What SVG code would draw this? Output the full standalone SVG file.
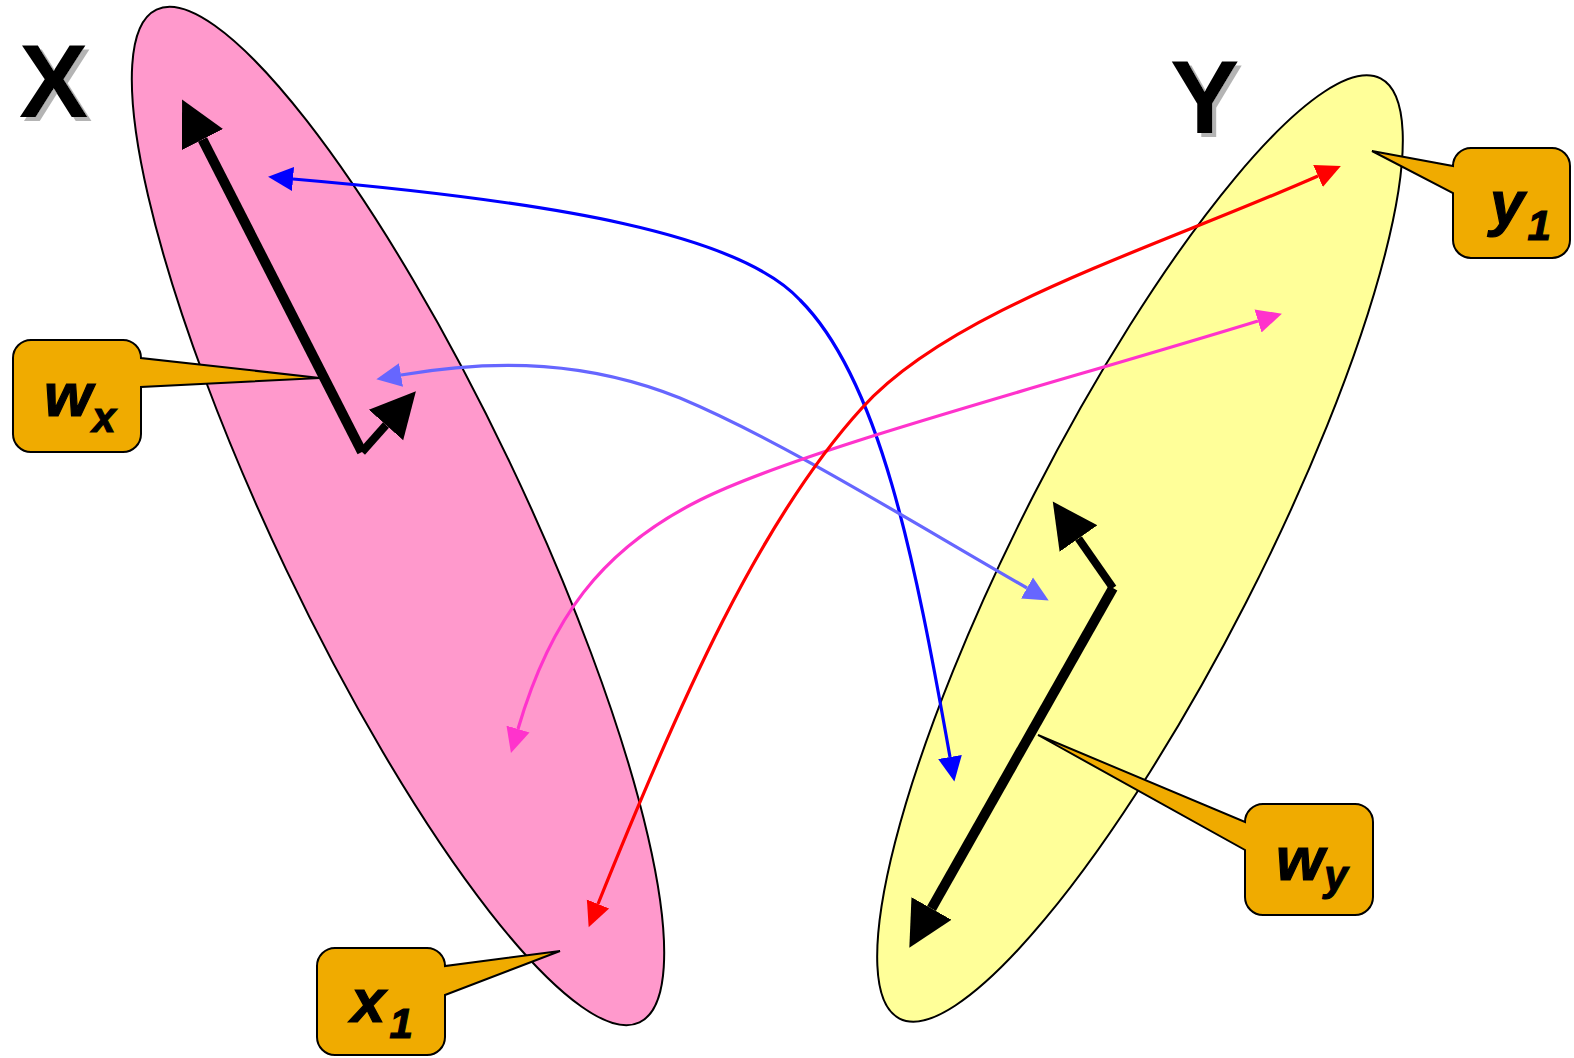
<svg xmlns="http://www.w3.org/2000/svg" width="1574" height="1058" viewBox="0 0 1574 1058">
<defs>
<style>
.ell{stroke:#000;stroke-width:2}
.call{fill:#F0AB00;stroke:#000;stroke-width:2;stroke-linejoin:miter}
.big{font-family:"Liberation Sans",Arial,sans-serif;font-weight:bold;font-size:104px;fill:#000}
.lab{font-family:"Liberation Sans",Arial,sans-serif;font-weight:bold;font-style:italic;font-size:62px;fill:#000;stroke:#000;stroke-width:1.2}
.sub{font-size:42px}
.thick{fill:none;stroke:#000}
.cv{fill:none;stroke-width:3.2}
</style>
<filter id="shadow" x="-20%" y="-20%" width="140%" height="140%">
<feOffset in="SourceAlpha" dx="4" dy="4" result="off"/>
<feFlood flood-color="#B4B4B4"/>
<feComposite in2="off" operator="in" result="sh"/>
<feMerge><feMergeNode in="sh"/><feMergeNode in="SourceGraphic"/></feMerge>
</filter>
<marker id="ahK" markerUnits="userSpaceOnUse" markerWidth="50" markerHeight="50" viewBox="0 -25 50 50" refX="0" refY="0" orient="auto"><path d="M0,-23 L45,0 L0,23 z" fill="#000"/></marker>
<marker id="ahB" markerUnits="userSpaceOnUse" markerWidth="30" markerHeight="30" viewBox="0 -15 30 30" refX="0" refY="0" orient="auto-start-reverse"><path d="M0,-12 L25,0 L0,12 z" fill="#0000FF"/></marker>
<marker id="ahL" markerUnits="userSpaceOnUse" markerWidth="30" markerHeight="30" viewBox="0 -15 30 30" refX="0" refY="0" orient="auto-start-reverse"><path d="M0,-12 L25,0 L0,12 z" fill="#6666FF"/></marker>
<marker id="ahM" markerUnits="userSpaceOnUse" markerWidth="30" markerHeight="30" viewBox="0 -15 30 30" refX="0" refY="0" orient="auto-start-reverse"><path d="M0,-12 L25,0 L0,12 z" fill="#FF33CC"/></marker>
<marker id="ahR" markerUnits="userSpaceOnUse" markerWidth="30" markerHeight="30" viewBox="0 -15 30 30" refX="0" refY="0" orient="auto-start-reverse"><path d="M0,-12 L25,0 L0,12 z" fill="#FF0000"/></marker>
</defs>
<rect width="1574" height="1058" fill="#fff"/>

<g id="setX">
<ellipse class="ell" cx="398" cy="516" rx="561" ry="124" fill="#FF99CC" transform="rotate(64.5 398 516)"/>
</g>
<g id="setY">
<ellipse class="ell" cx="1140" cy="548.5" rx="528" ry="119" fill="#FFFF99" transform="rotate(-62.9 1140 548.5)"/>
</g>

<g id="labelX">
<text class="big" x="19" y="117" filter="url(#shadow)">X</text>
</g>
<g id="labelY">
<text class="big" x="1170" y="133" filter="url(#shadow)">Y</text>
</g>

<g id="connectors">
<path class="cv" stroke="#0000FF" d="M293,179 C560,202 740,235 800,300 C880,380 915,560 950,757" marker-start="url(#ahB)" marker-end="url(#ahB)"/>
<path class="cv" stroke="#6666FF" d="M401,375 C500,358 590,362 680,398 C780,440 900,515 1027,588" marker-start="url(#ahL)" marker-end="url(#ahL)"/>
<path class="cv" stroke="#FF33CC" d="M1258,321 C1050,385 800,450 700,500 C600,550 550,620 518,729" marker-start="url(#ahM)" marker-end="url(#ahM)"/>
<path class="cv" stroke="#FF0000" d="M1318,176 C1150,250 950,310 862,408 C760,520 680,700 598,904" marker-start="url(#ahR)" marker-end="url(#ahR)"/>
<path class="thick" stroke-width="10" d="M362,452 L202.5,139.5" marker-end="url(#ahK)"/>
<path class="thick" stroke-width="8" d="M362,452 L386,425" marker-end="url(#ahK)"/>
<path class="thick" stroke-width="10" d="M1113,588 L931.5,908.5" marker-end="url(#ahK)"/>
<path class="thick" stroke-width="8" d="M1113,588 L1078.5,538.5" marker-end="url(#ahK)"/>
</g>

<g id="callout-wx">
<path class="call" d="M31,340 H123 A18,18 0 0 1 141,358 L320,378 L141,387 V434 A18,18 0 0 1 123,452 H31 A18,18 0 0 1 13,434 V358 A18,18 0 0 1 31,340 Z"/>
<text class="lab" x="44" y="416">w<tspan class="sub" dy="16">x</tspan></text>
</g>
<g id="callout-x1">
<path class="call" d="M335,948 H427 A18,18 0 0 1 445,966 L560,951 L445,995 V1037 A18,18 0 0 1 427,1055 H335 A18,18 0 0 1 317,1037 V966 A18,18 0 0 1 335,948 Z"/>
<text class="lab" x="351" y="1022">x<tspan class="sub" dx="4" dy="16">1</tspan></text>
</g>
<g id="callout-wy">
<path class="call" d="M1263,804 H1355 A18,18 0 0 1 1373,822 V897 A18,18 0 0 1 1355,915 H1263 A18,18 0 0 1 1245,897 V850 L1038,735 L1245,822 A18,18 0 0 1 1263,804 Z"/>
<text class="lab" x="1276" y="880">w<tspan class="sub" dy="10">y</tspan></text>
</g>
<g id="callout-y1">
<path class="call" d="M1471,148 H1552 A18,18 0 0 1 1570,166 V240 A18,18 0 0 1 1552,258 H1471 A18,18 0 0 1 1453,240 V193 L1372,151 L1453,166 A18,18 0 0 1 1471,148 Z"/>
<text class="lab" x="1490" y="224">y<tspan class="sub" dx="3" dy="16">1</tspan></text>
</g>
</svg>
